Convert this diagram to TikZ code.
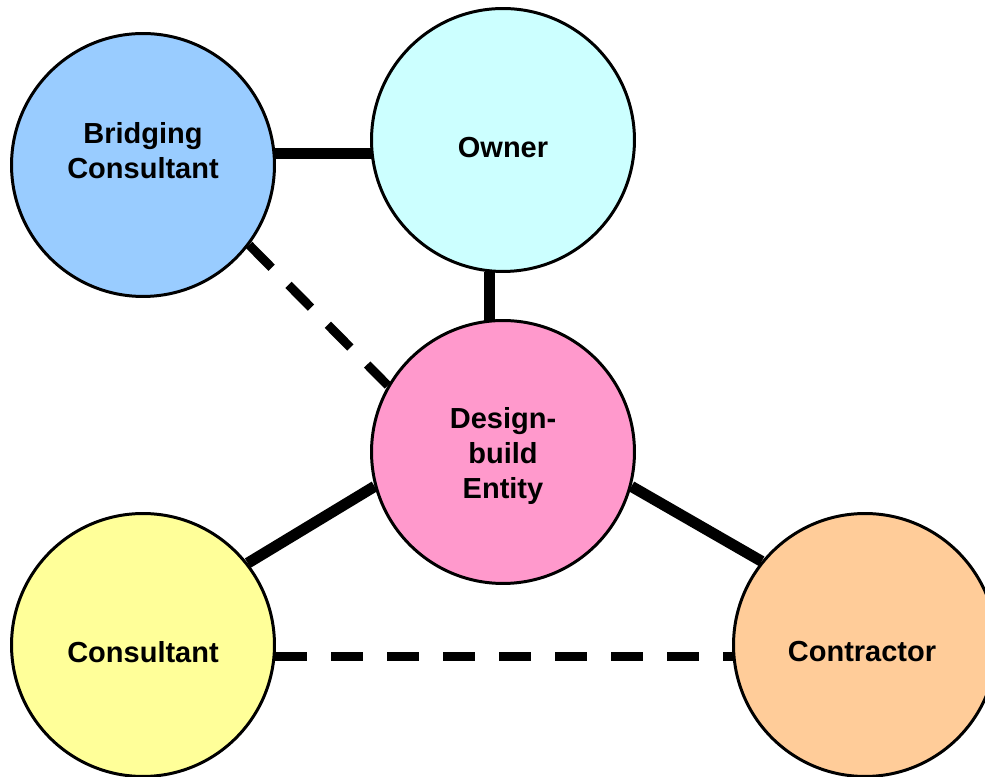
\documentclass[tikz,border=0pt]{standalone}
\usepackage{fontspec}
\setmainfont{Liberation Sans}
\usetikzlibrary{backgrounds}

\definecolor{bridgeblue}{HTML}{99CCFF}
\definecolor{ownercyan}{HTML}{CCFFFF}
\definecolor{entitypink}{HTML}{FF99CC}
\definecolor{consyellow}{HTML}{FFFF99}
\definecolor{controrange}{HTML}{FFCC99}

\tikzset{
  party/.style={circle, draw=black, line width=1.7pt, minimum size=5.26cm, inner sep=0pt},
  party text/.style={font=\fontsize{16.5}{20}\selectfont\bfseries, align=center},
  tie/.style={line width=6.3pt},
  loose tie/.style={line width=5.1pt, dash pattern=on 0.64cm off 0.48cm}
}

\begin{document}
\begin{tikzpicture}[x=0.02cm, y=0.02cm]

  \useasboundingbox (0,0) rectangle (985,777);

  % the five parties
  \node[party, fill=bridgeblue] (bridging) at (143,612) {};
  \node[party, fill=ownercyan] (owner) at (503,637) {};
  \node[party, fill=entitypink] (entity) at (503,325) {};
  \node[party, fill=consyellow] (consultant) at (143,132) {};
  \node[party, fill=controrange] (contractor) at (865,132) {};

  \node[party text] (bridging text) at (143,626) {Bridging\\Consultant};
  \node[party text] (owner text) at (503,629) {Owner};
  \node[party text] (entity text) at (503,321) {Design-\\build\\Entity};
  \node[party text] (consultant text) at (143,125) {Consultant};
  \node[party text] (contractor text) at (862,125) {Contractor};

  % contract links (solid) and informal links (dashed), kept behind the circles
  \begin{scope}[on background layer]
    \draw[tie] (bridging.5.2) -- (bridging.5.2 -| owner.center);
    \draw[tie] (owner.264.8) -- (owner.264.8 |- entity.center);
    \draw[tie] (entity.195.8) -- (consultant.38);
    \draw[tie] (entity.-15.5) -- (contractor.141.7);
    \draw[loose tie] (bridging.-37.8) -- (entity.150.6);
    \draw[loose tie] (consultant.-5.2) -- (consultant.-5.2 -| contractor.center);
  \end{scope}

\end{tikzpicture}
\end{document}
